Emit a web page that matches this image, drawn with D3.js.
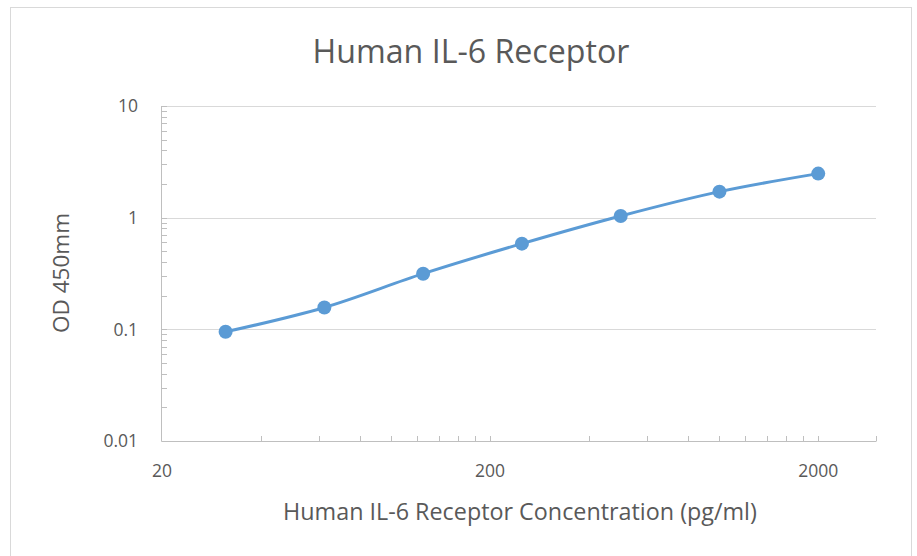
<!DOCTYPE html>
<html><head><meta charset="utf-8">
<script src="https://cdn.jsdelivr.net/npm/d3@7"></script>
<style>body{margin:0;background:#fff}svg{display:block}text{font-family:"Open Sans",sans-serif;fill:#595959}</style>
</head><body><svg id="c" width="917" height="556"></svg>
<script>
const concentrations = [31.25, 62.5, 125, 250, 500, 1000, 2000];
const odValues = [0.095, 0.157, 0.315, 0.585, 1.035, 1.71, 2.48];
const xTickLabels = [20, 200, 2000];
const yTickLabels = [0.01, 0.1, 1, 10];
const xMinorTicks = [40,60,80,100,120,140,160,180,200,400,600,800,1000,1200,1400,1600,1800,2000,3000];
const yMinorTicks = [];
[0.01,0.1,1].forEach(b=>{for(let k=2;k<=10;k++) yMinorTicks.push(b*k);});

const svg = d3.select("#c");
svg.append("rect").attr("x",10.5).attr("y",7.5).attr("width",901).attr("height",560)
  .attr("fill","#fff").attr("stroke","#d9d9d9");

const x = d3.scaleLog().domain([20,3000]).range([162,876]);
const y = d3.scaleLog().domain([0.01,10]).range([441,106]);

function fitText(sel, w){
  const n = sel.node(); let fs = parseFloat(sel.attr("font-size"));
  const len = n.getComputedTextLength(); sel.attr("font-size", fs*w/len);
}

svg.append("g").selectAll("line").data([0.1,1,10]).join("line")
  .attr("x1",162).attr("x2",876).attr("y1",d=>Math.round(y(d))+0.5).attr("y2",d=>Math.round(y(d))+0.5)
  .attr("stroke","#d9d9d9").attr("stroke-width",1);

svg.append("line").attr("x1",161.5).attr("x2",161.5).attr("y1",106).attr("y2",441.5).attr("stroke","#bfbfbf");
svg.append("line").attr("x1",161.5).attr("x2",876).attr("y1",441.5).attr("y2",441.5).attr("stroke","#bfbfbf");

svg.append("g").selectAll("line").data(yMinorTicks).join("line")
  .attr("x1",161.5).attr("x2",167).attr("y1",d=>Math.round(y(d))+0.5).attr("y2",d=>Math.round(y(d))+0.5)
  .attr("stroke","#bfbfbf");
svg.append("g").selectAll("line").data(xMinorTicks).join("line")
  .attr("x1",d=>Math.round(x(d))+0.5).attr("x2",d=>Math.round(x(d))+0.5).attr("y1",441.5).attr("y2",436)
  .attr("stroke","#bfbfbf");

svg.append("g").selectAll("text").data(yTickLabels).join("text")
  .attr("x",138).attr("y",d=>y(d)).attr("dy","0.36em").attr("text-anchor","end")
  .attr("font-size",17.5).text(d=>d);
svg.append("g").selectAll("text").data(xTickLabels).join("text")
  .attr("x",d=>x(d)).attr("y",477).attr("text-anchor","middle")
  .attr("font-size",17.5).text(d=>d);

const t = svg.append("text").attr("x",471).attr("y",63).attr("text-anchor","middle")
  .attr("font-size",26).text("Human IL-6 Receptor");
fitText(t,317);
const xt = svg.append("text").attr("x",520).attr("y",520).attr("text-anchor","middle")
  .attr("font-size",17).text("Human IL-6 Receptor Concentration (pg/ml)");
fitText(xt,474);
const yt = svg.append("text").attr("transform","translate(69,273) rotate(-90)").attr("text-anchor","middle")
  .attr("font-size",17).text("OD 450mm");
fitText(yt,120);

const pts = concentrations.map((c,i)=>[x(c),y(odValues[i])]);
svg.append("path").attr("d",d3.line().curve(d3.curveCatmullRom.alpha(0.5))(pts))
  .attr("fill","none").attr("stroke","#5b9bd5").attr("stroke-width",3).attr("stroke-linecap","round");
svg.append("g").selectAll("circle").data(pts).join("circle")
  .attr("cx",d=>d[0]).attr("cy",d=>d[1]).attr("r",7).attr("fill","#5b9bd5");
</script></body></html>
